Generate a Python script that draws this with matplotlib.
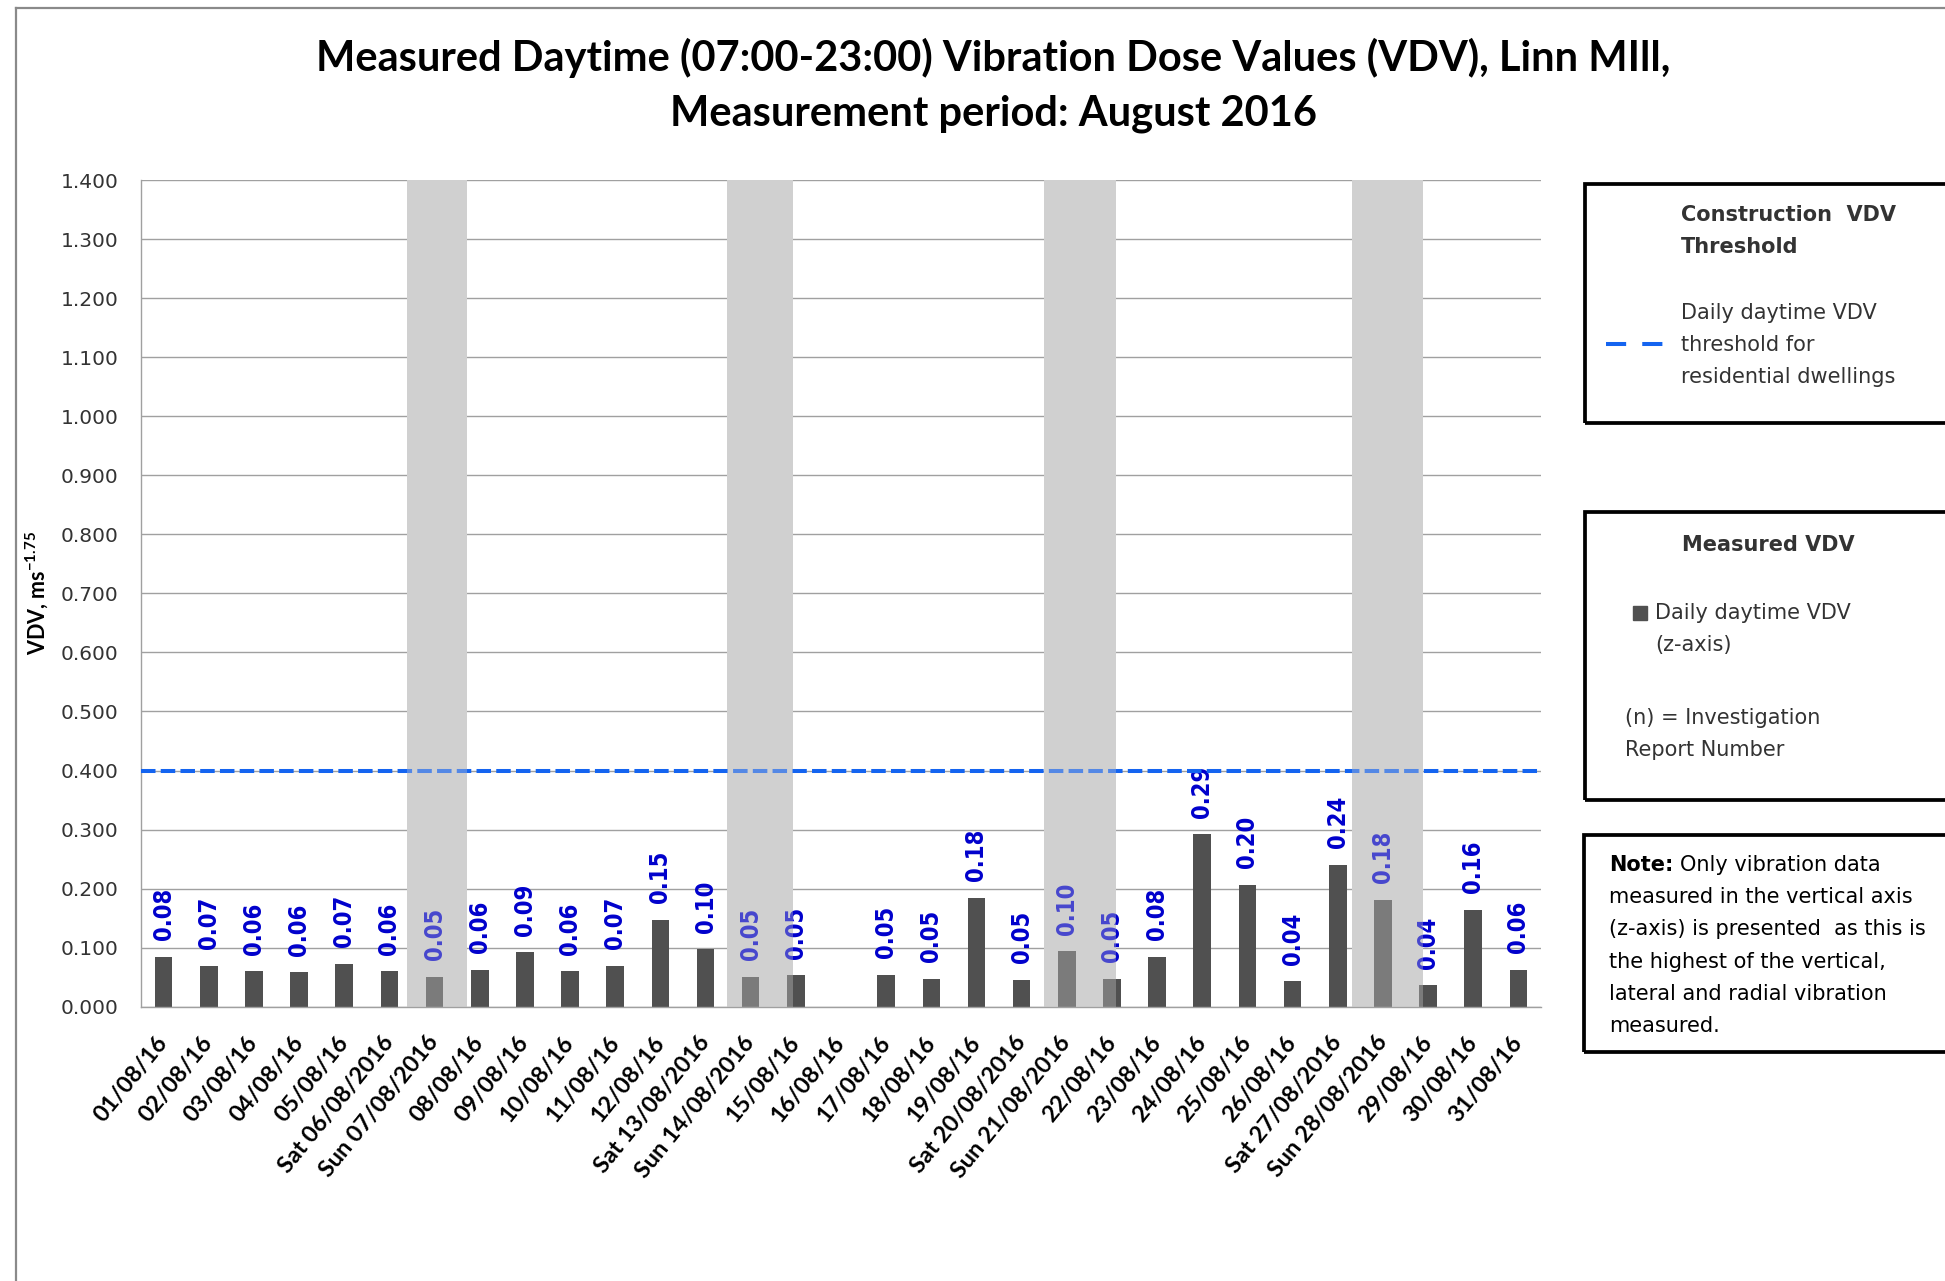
import numpy as np
import matplotlib
matplotlib.use('Agg')
import matplotlib.pyplot as plt
from matplotlib.lines import Line2D
from matplotlib.patches import Rectangle
from matplotlib.ticker import FormatStrFormatter

# chart data
days = ['01/08/16', '02/08/16', '03/08/16', '04/08/16', '05/08/16',
        'Sat 06/08/2016', 'Sun 07/08/2016', '08/08/16', '09/08/16', '10/08/16',
        '11/08/16', '12/08/16', 'Sat 13/08/2016', 'Sun 14/08/2016', '15/08/16',
        '16/08/16', '17/08/16', '18/08/16', '19/08/16', 'Sat 20/08/2016',
        'Sun 21/08/2016', '22/08/16', '23/08/16', '24/08/16', '25/08/16',
        '26/08/16', 'Sat 27/08/2016', 'Sun 28/08/2016', '29/08/16', '30/08/16',
        '31/08/16']
vdv = [0.084, 0.069, 0.060, 0.058, 0.073, 0.060, 0.051, 0.062, 0.092, 0.060,
       0.069, 0.147, 0.097, 0.051, 0.053, np.nan, 0.054, 0.047, 0.184, 0.045,
       0.094, 0.047, 0.084, 0.292, 0.206, 0.043, 0.240, 0.181, 0.036, 0.164,
       0.062]
vdv_labels = ['0.08', '0.07', '0.06', '0.06', '0.07', '0.06', '0.05', '0.06',
              '0.09', '0.06', '0.07', '0.15', '0.10', '0.05', '0.05', '',
              '0.05', '0.05', '0.18', '0.05', '0.10', '0.05', '0.08', '0.29',
              '0.20', '0.04', '0.24', '0.18', '0.04', '0.16', '0.06']
threshold = 0.4
# weekend shading (in category units, as drawn in the original)
weekend_bands = [(5.39, 6.71), (12.48, 13.94), (19.50, 21.09), (26.32, 27.89)]

W, H = 1945, 1281
plt.rcParams['mathtext.fontset'] = 'custom'
plt.rcParams['mathtext.rm'] = 'Lato'
plt.rcParams['mathtext.bf'] = 'Lato:bold'

fig = plt.figure(figsize=(W / 100, H / 100), dpi=100)


def ftext(px, py, s, **kw):
    # place text using pixel coords measured from top-left
    return fig.text(px / W, 1 - py / H, s, **kw)


ax = fig.add_axes([141 / W, 1 - 1006.7 / H, 1400 / W, 826.7 / H])
x = np.arange(len(days))
ax.bar(x, vdv, width=0.39, color='#505050', zorder=2)
for xi, v, lab in zip(x, vdv, vdv_labels):
    if np.isnan(v):
        continue
    ax.annotate(lab, (xi, v), xytext=(0, 12), textcoords='offset points',
                rotation=90, ha='center', va='bottom', color='#0000cc',
                fontweight='bold', fontsize=17, fontstretch='condensed', zorder=3)

ax.axhline(threshold, color='#1464f0', lw=2.9, dashes=(3.6, 1.3), zorder=4)

for x0, x1 in weekend_bands:
    ax.axvspan(x0, x1, color='#d0d0d0', lw=0, zorder=1)
    ax.axvspan(x0, x1, color='#d0d0d0', alpha=0.34, lw=0, zorder=10)

ax.set_xlim(-0.5, len(days) - 0.5)
ax.set_ylim(0, 1.4)
ax.set_yticks(np.arange(0, 1.41, 0.1))
ax.yaxis.set_major_formatter(FormatStrFormatter('%.3f'))
ax.set_axisbelow(True)
ax.yaxis.grid(True, color='#a0a0a0', lw=1.0)
ax.tick_params(length=0)
ax.tick_params(axis='y', pad=16, labelsize=14.5, labelcolor='#333333')
for s in ['top', 'right']:
    ax.spines[s].set_visible(False)
for s in ['left', 'bottom']:
    ax.spines[s].set_color('#a0a0a0')
    ax.spines[s].set_linewidth(1.0)

ax.set_xticks(x)
ax.set_xticklabels(days, rotation=51, ha='right', va='center',
                   rotation_mode='anchor', fontfamily='Lato',
                   fontweight='bold', fontsize=16.8)
ax.tick_params(axis='x', pad=23)

# y axis label
ftext(37, 593, r'VDV, ms$^{\mathbf{-1.75}}$', rotation=90, ha='center', va='center',
      fontfamily='Lato', fontweight='bold', fontsize=15.5)

# title
ftext(993, 58, 'Measured Daytime (07:00-23:00) Vibration Dose Values (VDV), Linn MIll,',
      ha='center', va='center', fontfamily='Lato', fontweight='bold', fontsize=30)
ftext(993, 114, 'Measurement period: August 2016',
      ha='center', va='center', fontfamily='Lato', fontweight='bold', fontsize=30)

# outer chart border
fig.add_artist(Line2D([16 / W, 16 / W], [0, 1 - 8 / H], color='#8a8a8a', lw=1.6))
fig.add_artist(Line2D([16 / W, 1], [1 - 8 / H, 1 - 8 / H], color='#8a8a8a', lw=1.6))

# side boxes
boxes = [(1585, 184, 423), (1585, 512, 800), (1584, 835, 1052)]
for bx, y0, y1 in boxes:
    fig.add_artist(Rectangle((bx / W, 1 - y1 / H), (W + 30 - bx) / W, (y1 - y0) / H,
                             transform=fig.transFigure, fill=False,
                             ec='black', lw=2.7, clip_on=False))

tcol = '#333333'
fs = 15
ftext(1681, 215, 'Construction  VDV', fontweight='bold', fontsize=fs, va='center', color=tcol)
ftext(1681, 247, 'Threshold', fontweight='bold', fontsize=fs, va='center', color=tcol)
ftext(1681, 313, 'Daily daytime VDV', fontsize=fs, va='center', color=tcol)
ftext(1681, 345, 'threshold for', fontsize=fs, va='center', color=tcol)
ftext(1681, 377, 'residential dwellings', fontsize=fs, va='center', color=tcol)
fig.add_artist(Line2D([1606 / W, 1663 / W], [1 - 344 / H, 1 - 344 / H],
                      color='#1464f0', lw=2.9, dashes=(5.0, 4.0)))

ftext(1768, 545, 'Measured VDV', fontweight='bold', fontsize=fs, ha='center', va='center', color=tcol)
fig.add_artist(Rectangle(((1640 - 7) / W, 1 - (613 + 7) / H), 14 / W, 14 / H,
                         transform=fig.transFigure, color='#505050'))
ftext(1655, 613, 'Daily daytime VDV', fontsize=fs, va='center', color=tcol)
ftext(1655, 645, '(z-axis)', fontsize=fs, va='center', color=tcol)
ftext(1625, 718, '(n) = Investigation', fontsize=fs, va='center', color=tcol)
ftext(1625, 750, 'Report Number', fontsize=fs, va='center', color=tcol)

note_lines = ['measured in the vertical axis', '(z-axis) is presented  as this is',
              'the highest of the vertical,', 'lateral and radial vibration', 'measured.']
note_head = ftext(1609, 865, 'Note:', fontweight='bold', fontsize=fs, va='center', color='black')
renderer = fig.canvas.get_renderer()
head_w = note_head.get_window_extent(renderer).width
ftext(1609 + head_w + 7, 865, 'Only vibration data', fontsize=fs, va='center', color='black')
for i, line in enumerate(note_lines):
    ftext(1609, 897 + i * 32.25, line, fontsize=fs, va='center', color='black')

fig.savefig('out.png', dpi=100)
